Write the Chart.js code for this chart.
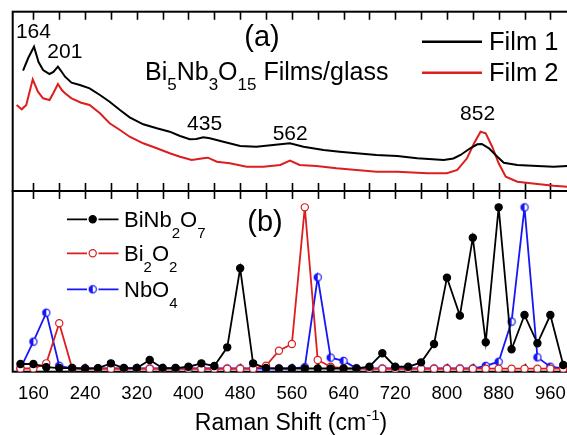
<!DOCTYPE html>
<html>
<head>
<meta charset="utf-8">
<script src="https://cdn.jsdelivr.net/npm/chart.js@4.4.1/dist/chart.umd.min.js"></script>
<style>
  html, body { margin: 0; padding: 0; overflow: hidden; background: #fff; width: 567px; height: 435px; }
  #wrap { position: relative; width: 590px; height: 435px; }
</style>
</head>
<body>
<div id="wrap"><canvas id="c" width="590" height="435"></canvas></div>
<script>
// Panel (a): measured Raman spectra of the two films (shift in cm^-1, intensity in a.u.)
const film1Shift = [144,152,161,168,175,185,191,198,204,209,219,232,247,263,278,294,309,330,351,371,387,402,412,423,433,454,480,505,531,557,578,609,634,660,691,723,754,795,810,821,836,847,854,865,878,888,909,940,965,986];
const film1Intensity = [120.3,133,144.3,129,121,117,119,124.3,119,114.3,108.3,106,102.7,96,89.3,81,73.7,66.7,62.7,59.3,55,51.7,52,53.7,52.7,49.3,45,44.3,46,47.7,44.3,41,39.3,37.7,36,35,32.7,31,32.5,36,42.7,46.7,47,42.7,34.3,28.3,26,25,24.3,25];
const film2Shift = [134,142,149,159,167,175,185,191,198,204,209,219,234,247,263,278,294,309,330,351,371,387,405,423,430,444,464,490,516,542,557,572,598,629,660,691,723,770,800,816,831,842,852,860,870,880,891,909,940,965,986];
const film2Intensity = [86,81.7,86,111.7,99.3,92.7,91,98,107,101,97.7,92.7,88.3,86,77.7,67.7,61,54.3,47.7,42.7,37.7,34.3,31,32.7,33.3,29.3,27.7,24.3,24.3,26,30.3,26,25,22.7,21,19.3,19.3,17.7,17.7,21,32.7,47.7,59.3,57.7,44.3,27.7,14.3,9.3,7,5.3,4.3];

// Panel (b): calculated mode intensities (normalised), every 20 cm^-1
const modeShift = [140,160,180,200,220,240,260,280,300,320,340,360,380,400,420,440,460,480,500,520,540,560,580,600,620,640,660,680,700,720,740,760,780,800,820,840,860,880,900,920,940,960,980];
const biNb2O7 = [3.1,3.1,1.1,0.6,0.6,0.3,0.5,3.5,0.6,0.6,5.6,0.6,0.6,1.4,3.5,1.9,13.4,62.3,3.5,0.6,0.3,0.3,0.3,0.3,0.3,0.3,0.3,1.4,9.7,1.4,1.4,4.1,15.5,56.5,33,81.2,16.5,100,12.2,33.4,15.9,33.4,2.5];
const bi2O2 = [0.3,0.3,3.5,28.3,0.4,0.2,0.2,0.2,0.2,0.2,0.2,0.2,0.2,0.2,0.2,0.2,0.2,0.2,0.2,2,11.3,15.5,100,5.6,1.4,0.4,0.2,0.2,0.2,0.2,0.2,0.2,0.2,0.2,0.2,0.2,0.2,0.2,0.2,0.2,0.2,0.2,0.2];
const nbO4 = [0.4,16.9,34.8,2,0.4,0.3,0.3,0.3,0.3,0.3,0.3,0.3,0.3,0.3,0.3,0.3,0.3,0.3,0.3,0.3,0.3,0.3,1.1,56.7,7,5,0.4,0.3,0.3,0.3,0.3,0.3,0.3,0.3,0.3,0.3,1.9,4.5,29.3,100,7.2,1.4,0.4];

// Axis ticks and peak annotations
const tickLabels = [160,240,320,400,480,560,640,720,800,880,960];
const minorTicks = [160,200,240,280,320,360,400,440,480,520,560,600,640,680,720,760,800,840,880,920,960];
const peakLabels = [164,201,435,562,852];

const FONT = '"Liberation Sans", Arial, Helvetica, sans-serif';
const RED = '#dc1e1e';
const BLUE = '#1717f5';

const pts = (xs, ys) => xs.map((x, i) => ({ x, y: ys[i] }));

// half-filled circle marker for the NbO4 series
function halfDot(color, r) {
  const s = Math.ceil(2 * r + 4);
  const c = document.createElement('canvas');
  c.width = s; c.height = s;
  const g = c.getContext('2d');
  const m = s / 2;
  g.beginPath(); g.arc(m, m, r, 0, 2 * Math.PI); g.fillStyle = '#fff'; g.fill();
  g.beginPath(); g.arc(m, m, r, Math.PI / 2, Math.PI * 1.5); g.closePath(); g.fillStyle = color; g.fill();
  g.beginPath(); g.arc(m, m, r, 0, 2 * Math.PI); g.lineWidth = 1.2; g.strokeStyle = color; g.stroke();
  return c;
}
const nbMarker = halfDot(BLUE, 3.6);

// text with _n subscripts and ^n superscripts
function richParts(str) {
  const parts = [];
  const re = /([_^])(-?\d+)/g;
  let last = 0, m;
  while ((m = re.exec(str)) !== null) {
    if (m.index > last) parts.push({ t: str.slice(last, m.index), k: 0 });
    parts.push({ t: m[2], k: m[1] === '_' ? 1 : -1 });
    last = re.lastIndex;
  }
  if (last < str.length) parts.push({ t: str.slice(last), k: 0 });
  return parts;
}
function drawRich(ctx, str, x, y, size, smallSize, shift, align) {
  const parts = richParts(str);
  const fontOf = p => (p.k === 0 ? size : smallSize) + 'px ' + FONT;
  let w = 0;
  parts.forEach(p => { ctx.font = fontOf(p); w += ctx.measureText(p.t).width; });
  let cx = align === 'center' ? x - w / 2 : x;
  ctx.textAlign = 'left';
  ctx.textBaseline = 'alphabetic';
  parts.forEach(p => {
    ctx.font = fontOf(p);
    ctx.fillText(p.t, cx, y + p.k * shift);
    cx += ctx.measureText(p.t).width;
  });
}

function drawMarker(ctx, ds, x, y) {
  if (ds.pointStyle === nbMarker) {
    ctx.drawImage(nbMarker, x - nbMarker.width / 2, y - nbMarker.height / 2);
    return;
  }
  ctx.beginPath();
  ctx.arc(x, y, ds.pointRadius, 0, 2 * Math.PI);
  ctx.fillStyle = ds.pointBackgroundColor;
  ctx.fill();
  ctx.lineWidth = ds.pointBorderWidth;
  ctx.strokeStyle = ds.pointBorderColor;
  ctx.stroke();
}

const decorations = {
  id: 'decorations',
  beforeDatasetsDraw(chart) {
    const ctx = chart.ctx;
    const { left, right } = chart.chartArea;
    const xs = chart.scales.x;
    ctx.save();
    ctx.strokeStyle = '#000';
    ['ya', 'yb'].forEach(id => {
      const s = chart.scales[id];
      ctx.lineWidth = 1.6;
      minorTicks.forEach(v => {
        const px = Math.round(xs.getPixelForValue(v)) + 0.5;
        ctx.beginPath();
        ctx.moveTo(px, s.top); ctx.lineTo(px, s.top + 8);
        ctx.moveTo(px, s.bottom); ctx.lineTo(px, s.bottom - 8);
        ctx.stroke();
      });
      ctx.lineWidth = 2;
      ctx.strokeRect(left, s.top, right - left, s.bottom - s.top);
    });
    ctx.restore();
  },
  afterDatasetsDraw(chart) {
    const ctx = chart.ctx;
    const xs = chart.scales.x, ya = chart.scales.ya, yb = chart.scales.yb;
    ctx.save();
    ctx.fillStyle = '#000';

    // peak positions in panel (a)
    const peakPlace = { 164: [-2.5, 152.7], 201: [5, 132.7], 435: [-6.5, 61], 562: [-3, 51], 852: [-3, 71] };
    peakLabels.forEach(p => {
      const [dx, yv] = peakPlace[p];
      drawRich(ctx, String(p), xs.getPixelForValue(p) + dx, ya.getPixelForValue(yv), 21, 14, 0, 'center');
    });

    // panel tags and sample label
    drawRich(ctx, '(a)', 262, ya.top + 34.5, 29, 20, 0, 'center');
    drawRich(ctx, '(b)', 265, yb.top + 39.5, 29, 20, 0, 'center');
    drawRich(ctx, 'Bi_5Nb_3O_15 Films/glass', 145, 80, 25, 17, 10, 'left');

    // legend of panel (a)
    const dsets = chart.data.datasets;
    [[0, 41.7], [1, 72.7]].forEach(([i, ly]) => {
      ctx.strokeStyle = dsets[i].borderColor;
      ctx.lineWidth = 2.5;
      ctx.beginPath(); ctx.moveTo(422, ly); ctx.lineTo(482, ly); ctx.stroke();
      ctx.fillStyle = '#000';
      drawRich(ctx, dsets[i].label, 489, ly + 8.5, 25.5, 16, 0, 'left');
    });

    // legend of panel (b)
    [[2, 219.3], [3, 253.3], [4, 289.3]].forEach(([i, ly]) => {
      const ds = dsets[i];
      ctx.strokeStyle = ds.borderColor;
      ctx.lineWidth = 1.8;
      ctx.beginPath();
      ctx.moveTo(67, ly); ctx.lineTo(87, ly);
      ctx.moveTo(98.5, ly); ctx.lineTo(118.5, ly);
      ctx.stroke();
      drawMarker(ctx, ds, 92.7, ly);
      ctx.fillStyle = '#000';
      drawRich(ctx, ds.label, 124, ly + 7.5, 22, 15, 11, 'left');
    });

    // x-axis title
    drawRich(ctx, 'Raman Shift (cm^-1)', 291, 430, 23, 15, 10, 'center');
    ctx.restore();
  }
};

const lineBase = { pointRadius: 0, borderWidth: 2, fill: false, tension: 0, xAxisID: 'x', yAxisID: 'ya' };
const modeBase = { borderWidth: 1.8, pointRadius: 3.6, pointBorderWidth: 1.2, fill: false, tension: 0, xAxisID: 'x', yAxisID: 'yb' };

new Chart(document.getElementById('c'), {
  type: 'line',
  data: {
    datasets: [
      { ...lineBase, label: 'Film 1', data: pts(film1Shift, film1Intensity), borderColor: '#000' },
      { ...lineBase, label: 'Film 2', data: pts(film2Shift, film2Intensity), borderColor: RED },
      { ...modeBase, label: 'BiNb_2O_7', data: pts(modeShift, biNb2O7), borderColor: '#000', pointBackgroundColor: '#000', pointBorderColor: '#000' },
      { ...modeBase, label: 'Bi_2O_2', data: pts(modeShift, bi2O2), borderColor: RED, pointBackgroundColor: '#fff', pointBorderColor: RED },
      { ...modeBase, label: 'NbO_4', data: pts(modeShift, nbO4), borderColor: BLUE, pointStyle: nbMarker, pointBackgroundColor: BLUE, pointBorderColor: BLUE }
    ]
  },
  options: {
    responsive: false,
    animation: false,
    events: [],
    layout: { padding: { left: 12.7, top: 11.7, right: 590 - 576.2, bottom: 0 } },
    plugins: { legend: { display: false }, tooltip: { enabled: false } },
    scales: {
      x: {
        type: 'linear', position: 'bottom', min: 128, max: 1000,
        afterBuildTicks: s => { s.ticks = tickLabels.map(v => ({ value: v })); },
        afterFit: s => { s.height = 435 - 371.7; },
        grid: { display: false, drawTicks: false },
        border: { display: false },
        ticks: { color: '#000', font: { family: FONT, size: 18.5 }, padding: 11, maxRotation: 0, autoSkip: false }
      },
      ya: { type: 'linear', position: 'left', stack: 'panels', stackWeight: 179.3, weight: 2, min: 0, max: 179.3, display: false },
      yb: { type: 'linear', position: 'left', stack: 'panels', stackWeight: 180.7, weight: 1, min: -1.67, max: 110.1, display: false }
    }
  },
  plugins: [decorations]
});
</script>
</body>
</html>
